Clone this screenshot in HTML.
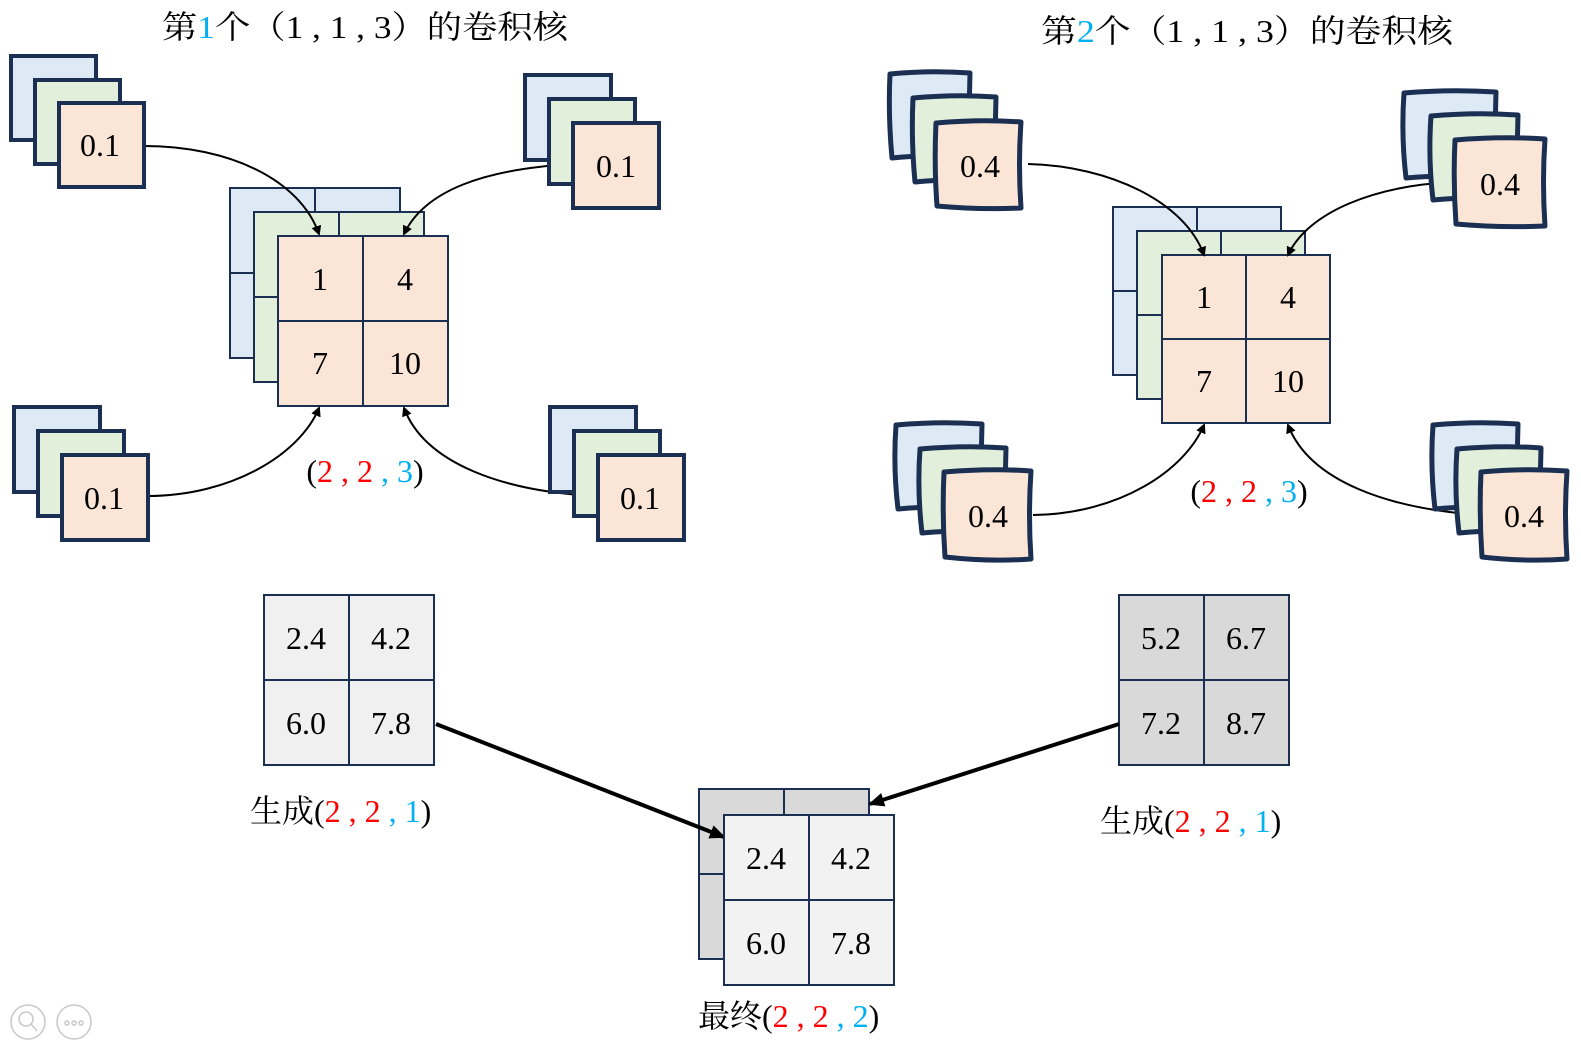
<!DOCTYPE html>
<html><head><meta charset="utf-8"><style>
html,body{margin:0;padding:0;background:#fff;}
svg{display:block;}
svg text{font-family:"Liberation Serif","Noto Serif CJK SC",serif !important;}
</style></head><body>
<svg width="1581" height="1044" viewBox="0 0 1581 1044" xmlns="http://www.w3.org/2000/svg" font-family="Liberation Serif, Noto Serif CJK SC, serif">
<defs>
<marker id="a" markerWidth="10" markerHeight="10" refX="8" refY="5" orient="auto" markerUnits="userSpaceOnUse"><path d="M0,0 L10,5 L0,10 Z" fill="#000"/></marker>
<marker id="b" markerWidth="16" markerHeight="14" refX="14" refY="7" orient="auto" markerUnits="userSpaceOnUse"><path d="M0,0 L16,7 L0,14 Z" fill="#000"/></marker>
</defs>
<text x="162" y="38" font-size="32" textLength="406" lengthAdjust="spacingAndGlyphs">第<tspan fill="#00b0f0">1</tspan>个（1 , 1 , 3）的卷积核</text>
<text x="1041" y="42" font-size="32" textLength="412" lengthAdjust="spacingAndGlyphs">第<tspan fill="#00b0f0">2</tspan>个（1 , 1 , 3）的卷积核</text>

<g stroke="#1b2f52" stroke-width="2">
<rect x="230" y="188" width="170" height="170" fill="#dde9f5"/><line x1="315" y1="188" x2="315" y2="358"/><line x1="230" y1="273" x2="400" y2="273"/>
<rect x="254" y="212" width="170" height="170" fill="#e2efda"/><line x1="339" y1="212" x2="339" y2="382"/><line x1="254" y1="297" x2="424" y2="297"/>
<rect x="278" y="236" width="170" height="170" fill="#fbe5d6"/><line x1="363" y1="236" x2="363" y2="406"/><line x1="278" y1="321" x2="448" y2="321"/>
</g>
<g font-size="32" text-anchor="middle">
<text x="320" y="290">1</text><text x="405" y="290">4</text><text x="320" y="374">7</text><text x="405" y="374">10</text>
</g>
<text x="365" y="482" font-size="32" text-anchor="middle">(<tspan fill="#ff0000">2</tspan> <tspan fill="#ff0000">,</tspan> <tspan fill="#ff0000">2</tspan> <tspan fill="#00b0f0">, 3</tspan>)</text>

<g fill="none" stroke="#000" stroke-width="2">
<path d="M144,146 C230,146 300,180 319,234" marker-end="url(#a)"/>
<path d="M573,164 C485,169 425,190 404,234" marker-end="url(#a)"/>
<path d="M147,496 C232,496 300,454 319,408" marker-end="url(#a)"/>
<path d="M597,496 C505,492 425,464 404,408" marker-end="url(#a)"/>
</g>

<g stroke="#1b2f52" stroke-width="4">
<rect x="11" y="56" width="85" height="84" fill="#dde9f5"/><rect x="35" y="80" width="85" height="84" fill="#e2efda"/><rect x="59" y="103" width="85" height="84" fill="#fbe5d6"/>
<rect x="525" y="75" width="86" height="85" fill="#dde9f5"/><rect x="549" y="99" width="86" height="85" fill="#e2efda"/><rect x="573" y="123" width="86" height="85" fill="#fbe5d6"/>
<rect x="14" y="407" width="86" height="85" fill="#dde9f5"/><rect x="38" y="431" width="86" height="85" fill="#e2efda"/><rect x="62" y="455" width="86" height="85" fill="#fbe5d6"/>
<rect x="550" y="407" width="86" height="85" fill="#dde9f5"/><rect x="574" y="431" width="86" height="85" fill="#e2efda"/><rect x="598" y="455" width="86" height="85" fill="#fbe5d6"/>
</g>
<g font-size="32" text-anchor="middle">
<text x="100" y="156">0.1</text><text x="616" y="177">0.1</text><text x="104" y="509">0.1</text><text x="640" y="509">0.1</text>
</g>

<g stroke="#1b2f52" stroke-width="2">
<rect x="1113" y="207" width="168" height="168" fill="#dde9f5"/><line x1="1197" y1="207" x2="1197" y2="375"/><line x1="1113" y1="291" x2="1281" y2="291"/>
<rect x="1137" y="231" width="168" height="168" fill="#e2efda"/><line x1="1221" y1="231" x2="1221" y2="399"/><line x1="1137" y1="315" x2="1305" y2="315"/>
<rect x="1162" y="255" width="168" height="168" fill="#fbe5d6"/><line x1="1246" y1="255" x2="1246" y2="423"/><line x1="1162" y1="339" x2="1330" y2="339"/>
</g>
<g font-size="32" text-anchor="middle">
<text x="1204" y="308">1</text><text x="1288" y="308">4</text><text x="1204" y="392">7</text><text x="1288" y="392">10</text>
</g>
<text x="1249" y="502" font-size="32" text-anchor="middle">(<tspan fill="#ff0000">2</tspan> <tspan fill="#ff0000">,</tspan> <tspan fill="#ff0000">2</tspan> <tspan fill="#00b0f0">, 3</tspan>)</text>

<g fill="none" stroke="#000" stroke-width="2">
<path d="M1028,164 C1110,166 1185,202 1204,255" marker-end="url(#a)"/>
<path d="M1456,182 C1375,185 1308,212 1288,255" marker-end="url(#a)"/>
<path d="M1033,515 C1120,514 1185,470 1204,425" marker-end="url(#a)"/>
<path d="M1481,515 C1390,509 1310,482 1288,425" marker-end="url(#a)"/>
</g>

<g stroke="#1b2f52" stroke-width="5" stroke-linejoin="round">
<path d="M890,74 Q930,70 970,73 L968,158 Q930,154 892,158 Q888,115 890,74Z" fill="#dde9f5"/>
<path d="M913,98 Q955,94 996,97 L994,182 Q955,178 915,182 Q911,140 913,98Z" fill="#e2efda"/>
<path d="M936,123 Q980,119 1021,122 Q1018,165 1021,208 Q980,210 937,206 Q934,165 936,123Z" fill="#fbe5d6"/>
<path d="M1404,93 Q1450,89 1496,92 L1494,178 Q1450,174 1406,178 Q1401,135 1404,93Z" fill="#dde9f5"/>
<path d="M1431,116 Q1475,112 1518,115 L1516,200 Q1475,196 1433,200 Q1428,158 1431,116Z" fill="#e2efda"/>
<path d="M1455,140 Q1500,136 1545,139 Q1542,182 1545,226 Q1500,228 1456,224 Q1453,182 1455,140Z" fill="#fbe5d6"/>
<path d="M896,425 Q940,421 982,424 L980,509 Q940,505 898,509 Q893,467 896,425Z" fill="#dde9f5"/>
<path d="M920,449 Q965,445 1006,448 L1004,533 Q965,529 922,533 Q917,491 920,449Z" fill="#e2efda"/>
<path d="M944,472 Q990,468 1031,471 Q1028,515 1031,559 Q990,562 945,557 Q942,515 944,472Z" fill="#fbe5d6"/>
<path d="M1433,425 Q1476,421 1518,424 L1516,509 Q1476,505 1435,509 Q1430,467 1433,425Z" fill="#dde9f5"/>
<path d="M1457,449 Q1500,445 1541,448 L1539,533 Q1500,529 1459,533 Q1454,491 1457,449Z" fill="#e2efda"/>
<path d="M1481,472 Q1525,468 1567,471 Q1564,515 1567,559 Q1525,562 1482,557 Q1479,515 1481,472Z" fill="#fbe5d6"/>
</g>
<g font-size="32" text-anchor="middle">
<text x="980" y="177">0.4</text><text x="1500" y="195">0.4</text><text x="988" y="527">0.4</text><text x="1524" y="527">0.4</text>
</g>

<g stroke="#1b2f52" stroke-width="2">
<rect x="264" y="595" width="170" height="170" fill="#f0f0f0"/><line x1="349" y1="595" x2="349" y2="765"/><line x1="264" y1="680" x2="434" y2="680"/>
<rect x="1119" y="595" width="170" height="170" fill="#d9d9d9"/><line x1="1204" y1="595" x2="1204" y2="765"/><line x1="1119" y1="680" x2="1289" y2="680"/>
<rect x="699" y="789" width="170" height="170" fill="#d9d9d9"/><line x1="784" y1="789" x2="784" y2="959"/><line x1="699" y1="874" x2="869" y2="874"/>
</g>
<g fill="none" stroke="#000" stroke-width="4">
<path d="M436,724 L724,837" marker-end="url(#b)"/>
<path d="M1119,724 L870,804" marker-end="url(#b)"/>
</g>
<g stroke="#1b2f52" stroke-width="2">
<rect x="724" y="815" width="170" height="170" fill="#f2f2f2"/><line x1="809" y1="815" x2="809" y2="985"/><line x1="724" y1="900" x2="894" y2="900"/>
</g>
<g font-size="32" text-anchor="middle">
<text x="306" y="649">2.4</text><text x="391" y="649">4.2</text><text x="306" y="734">6.0</text><text x="391" y="734">7.8</text>
<text x="1161" y="649">5.2</text><text x="1246" y="649">6.7</text><text x="1161" y="734">7.2</text><text x="1246" y="734">8.7</text>
<text x="766" y="869">2.4</text><text x="851" y="869">4.2</text><text x="766" y="954">6.0</text><text x="851" y="954">7.8</text>
</g>
<text x="250" y="822" font-size="32">生成(<tspan fill="#ff0000">2 , 2</tspan> <tspan fill="#00b0f0">, 1</tspan>)</text>
<text x="1100" y="832" font-size="32">生成(<tspan fill="#ff0000">2 , 2</tspan> <tspan fill="#00b0f0">, 1</tspan>)</text>
<text x="698" y="1027" font-size="32">最终(<tspan fill="#ff0000">2 , 2</tspan> <tspan fill="#00b0f0">, 2</tspan>)</text>

<g stroke="#c8c8c8" stroke-width="1.5" fill="none">
<circle cx="28" cy="1022" r="17"/><circle cx="26" cy="1019" r="7"/><line x1="31" y1="1024" x2="37" y2="1031"/>
<circle cx="74" cy="1022" r="17"/><circle cx="67" cy="1023" r="2"/><circle cx="74" cy="1023" r="2"/><circle cx="81" cy="1023" r="2"/>
</g>
</svg>
</body></html>
